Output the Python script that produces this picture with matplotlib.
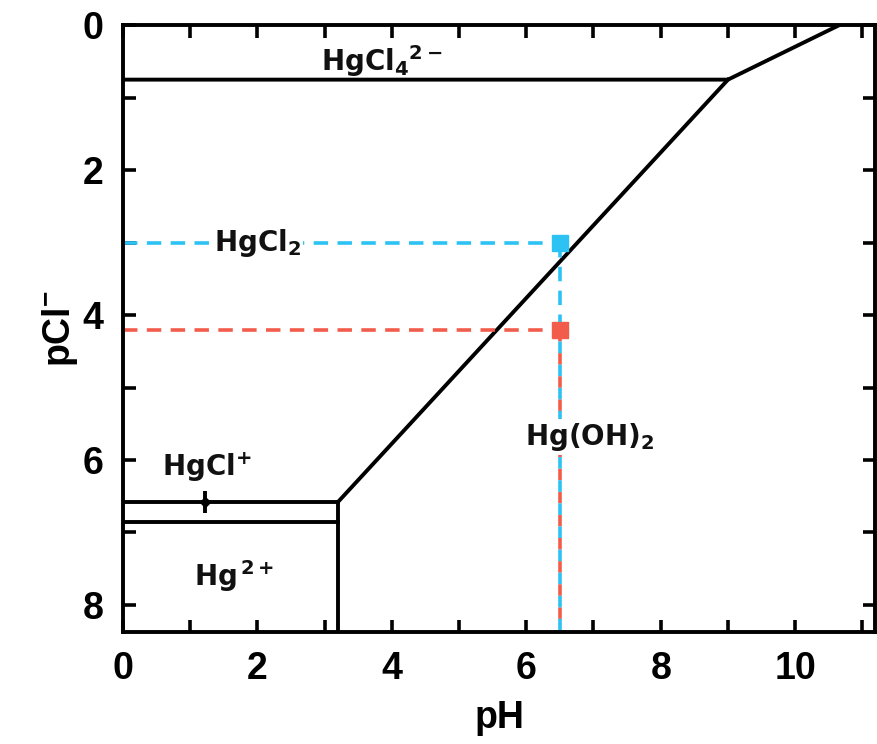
import matplotlib
matplotlib.use("Agg")
import matplotlib.pyplot as plt
from matplotlib.ticker import MultipleLocator

# phase boundaries (pH, pCl-)
hgcl4_x = [0, 9.0, 10.65]
hgcl4_y = [0.75, 0.75, 0.0]
diag_x = [3.2, 9.0]
diag_y = [6.58, 0.75]
hgcl_top_x = [0, 3.2]
hgcl_top_y = [6.58, 6.58]
hgcl_bot_x = [0, 3.2]
hgcl_bot_y = [6.85, 6.85]
hg2_x = [3.2, 3.2]
hg2_y = [6.58, 8.4]
mark_x = [1.22]
mark_y = [6.58]

# highlighted points
ph_point = 6.5
pcl_blue = 3.0
pcl_red = 4.2
pcl_bottom = 8.4

# (x, y, text, white box behind)
labels = [
    (3.85, 0.5, r"HgCl$_4$$^{2-}$", False),
    (2.0, 3.0, r"HgCl$_2$", True),
    (1.25, 6.1, r"HgCl$^{+}$", False),
    (1.65, 7.6, r"Hg$^{\,2+}$", False),
    (6.95, 5.68, r"Hg(OH)$_2$", True),
]

blue = "#2cc3f4"
red = "#f25c4b"

plt.rcParams['font.family'] = ['Liberation Sans', 'DejaVu Sans']
plt.rcParams['mathtext.default'] = 'regular'

fig = plt.figure(figsize=(8.77, 7.44), dpi=100)
ax = fig.add_axes([0.140, 0.151, 0.858, 0.815])

lw = 2.8
ax.plot(hgcl4_x, hgcl4_y, color="black", lw=lw)
ax.plot(diag_x, diag_y, color="black", lw=lw)
ax.plot(hgcl_top_x, hgcl_top_y, color="black", lw=lw)
ax.plot(hgcl_bot_x, hgcl_bot_y, color="black", lw=lw)
ax.plot(hg2_x, hg2_y, color="black", lw=lw)
ax.plot(mark_x, mark_y, marker="|", ms=16, mew=2.8, color="black")
ax.plot(mark_x, mark_y, marker="D", ms=5, color="black")

# dashed guides
ax.plot([0, ph_point], [pcl_blue, pcl_blue], color=blue, lw=2.6, ls=(0, (4, 2.6)))
ax.plot([ph_point, ph_point], [pcl_blue, pcl_red], color=blue, lw=2.6, ls=(0, (4, 2.6)))
ax.plot([0, ph_point], [pcl_red, pcl_red], color=red, lw=2.6, ls=(0, (4, 2.6)))
ax.plot([ph_point, ph_point], [pcl_red, pcl_bottom], color=red, lw=2.6, ls=(0, (3.2, 3.2)))
ax.plot([ph_point, ph_point], [pcl_red, pcl_bottom], color=blue, lw=2.6, ls=(3.2, (3.2, 3.2)))
ax.plot([ph_point], [pcl_blue], marker="s", ms=12, color=blue, ls="none")
ax.plot([ph_point], [pcl_red], marker="s", ms=12, color=red, ls="none")

for x, y, s, boxed in labels:
    t = ax.text(x, y, s, ha="center", va="center", fontsize=20, fontweight="bold",
                family="DejaVu Sans", color="#111111")
    if boxed:
        t.set_bbox(dict(facecolor="white", edgecolor="none", pad=1.5))

ax.set_xlim(0, 11.19)
ax.set_ylim(8.37, 0)
ax.xaxis.set_major_locator(MultipleLocator(2))
ax.xaxis.set_minor_locator(MultipleLocator(1))
ax.yaxis.set_major_locator(MultipleLocator(2))
ax.yaxis.set_minor_locator(MultipleLocator(1))
ax.tick_params(which="both", direction="in", top=True, right=True,
               length=9, width=2.6, pad=14)
ax.tick_params(labelsize=27)
for t in ax.get_xticklabels() + ax.get_yticklabels():
    t.set_fontweight("bold")
for sp in ax.spines.values():
    sp.set_linewidth(2.8)

ax.set_xlabel("pH", fontsize=27, fontweight="bold", labelpad=9)
ax.set_ylabel(r"pCl$^{-}$", fontsize=27, fontweight="bold", labelpad=2)

fig.savefig("out.png", dpi=100)
